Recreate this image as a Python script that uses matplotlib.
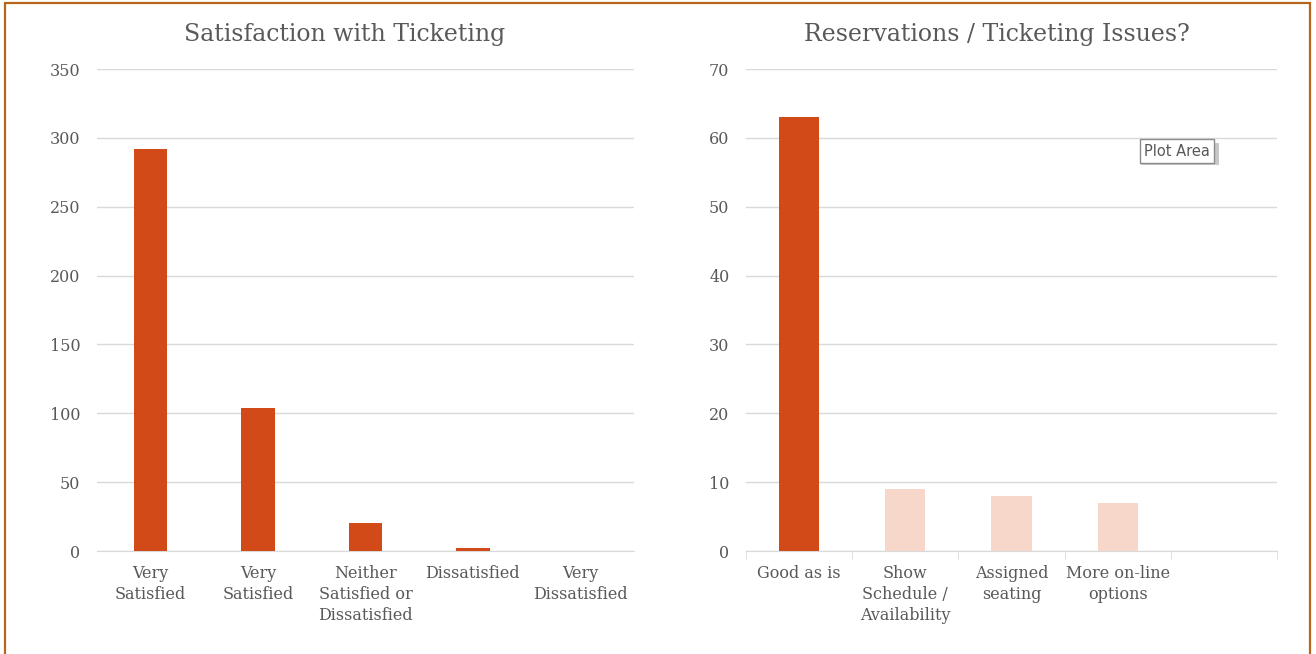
import numpy as np
import matplotlib
matplotlib.use("Agg")
import matplotlib.pyplot as plt
from matplotlib.patches import Rectangle

# data
sat_labels = ["Very\nSatisfied", "Very\nSatisfied", "Neither\nSatisfied or\nDissatisfied",
              "Dissatisfied", "Very\nDissatisfied"]
sat_values = [292, 104, 20, 2, 0]

res_labels = ["Good as is", "Show\nSchedule /\nAvailability", "Assigned\nseating",
              "More on-line\noptions", ""]
res_values = [63, 9, 8, 7, 0]

dark = "#D24A18"
light = "#F8D7CB"
txt = "#595959"
grid = "#D9D9D9"

plt.rcParams["font.family"] = ["DejaVu Serif"]

fig = plt.figure(figsize=(13.16, 6.54), dpi=100)

ax1 = fig.add_axes([97/1316, 103/654, 537/1316, 482/654])
ax2 = fig.add_axes([746/1316, 103/654, 531/1316, 482/654])

x = np.arange(len(sat_values))
ax1.bar(x, sat_values, width=0.31, color=dark, zorder=3)
ax1.set_ylim(0, 350)
ax1.set_yticks(np.arange(0, 351, 50))
ax1.set_xlim(-0.5, len(sat_values) - 0.5)
ax1.set_xticks(x)
ax1.set_xticklabels(sat_labels, linespacing=1.3)
ax1.tick_params(axis="x", length=0, pad=10)

x2 = np.arange(len(res_values))
cols = [dark] + [light] * (len(res_values) - 1)
ax2.bar(x2, res_values, width=0.38, color=cols, zorder=3)
ax2.set_ylim(0, 70)
ax2.set_yticks(np.arange(0, 71, 10))
ax2.set_xlim(-0.5, len(res_values) - 0.5)
ax2.set_xticks(x2)
ax2.set_xticklabels(res_labels, linespacing=1.3)
ax2.set_xticks(np.arange(-0.5, len(res_values)), minor=True)
ax2.tick_params(axis="x", which="major", length=0, pad=10)
ax2.tick_params(axis="x", which="minor", length=6, color=grid, direction="out")

for ax in (ax1, ax2):
    for s in ["top", "right", "left"]:
        ax.spines[s].set_visible(False)
    ax.spines["bottom"].set_color(grid)
    ax.grid(axis="y", color=grid, linewidth=1, zorder=0)
    ax.tick_params(axis="y", length=0, pad=12, labelsize=11.5, labelcolor=txt)
    ax.tick_params(axis="x", labelsize=11.5, labelcolor=txt)

fig.text(345/1316, 1 - 35/654, "Satisfaction with Ticketing", ha="center", va="center",
         fontsize=17, color=txt)
fig.text(997/1316, 1 - 35/654, "Reservations / Ticketing Issues?", ha="center", va="center",
         fontsize=17, color=txt)

# tooltip box
fig.patches.append(Rectangle((1141/1316, 1 - 165/654), 78/1316, 22/654,
                             transform=fig.transFigure, facecolor="#C8C8C8",
                             edgecolor="none", zorder=5))
fig.text(1177/1316, 1 - 151/654, "Plot Area", ha="center", va="center", fontsize=10.5,
         family="DejaVu Sans", color=txt, zorder=6,
         bbox=dict(boxstyle="square,pad=0.3", facecolor="white", edgecolor="#8C8C8C", linewidth=1))

# outer border
fig.patches.append(Rectangle((5/1316, -0.05), 1305/1316, 1.05 - 3/654,
                             transform=fig.transFigure, facecolor="none",
                             edgecolor="#B8651C", linewidth=1.6, zorder=10))

fig.savefig("out.png", dpi=100)
